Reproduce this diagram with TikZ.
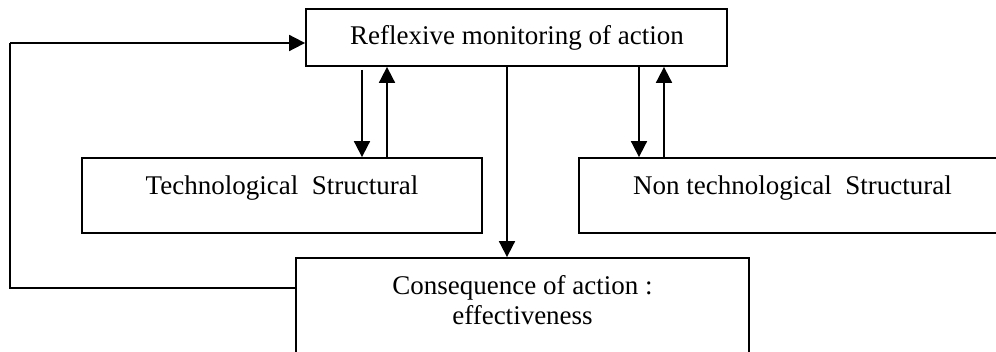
\documentclass[tikz,border=0pt]{standalone}
\usepackage{fontspec}
\setmainfont{Liberation Serif}
\usetikzlibrary{arrows.meta}
\begin{document}
\begin{tikzpicture}[x=1pt,y=-1pt,
  box/.style={draw,line width=1.8pt,rectangle,inner sep=0pt},
  lbl/.style={font=\fontsize{27}{30}\selectfont,inner sep=0pt,anchor=base},
  arr/.style={line width=1.8pt,-{Triangle[length=16pt,width=16pt]}},
  conn/.style={line width=1.8pt}]
\useasboundingbox (0,0) rectangle (996,352);
% boxes
\node[box,minimum width=421pt,minimum height=57pt] (top) at (516.5,37.5) {};
\node[box,minimum width=400pt,minimum height=75pt] (tech) at (282,195.5) {};
\node[box,minimum width=427pt,minimum height=75pt] (nontech) at (792.5,195.5) {};
\node[box,minimum width=453pt,minimum height=130pt] (cons) at (522.5,323) {};
% texts
\node[lbl] (toptxt) at (517,45) {Reflexive monitoring of action};
\node[lbl] (techtxt) at (282,195) {Technological\ \ Structural};
\node[lbl] (nontechtxt) at (792.5,195) {Non technological\ \ Structural};
\node[lbl] (constxt1) at (522.5,295) {Consequence of action :};
\node[lbl] (constxt2) at (522.5,325) {effectiveness};
% arrows between top and tech
\draw[arr] ([yshift=-3pt]top.south -| 362,0) -- (tech.north -| 362,0);
\draw[arr] (tech.north -| 387,0) -- (top.south -| 387,0);
% arrows between top and nontech
\draw[arr] (top.south -| 639,0) -- (nontech.north -| 639,0);
\draw[arr] (nontech.north -| 664,0) -- (top.south -| 664,0);
% middle arrow
\draw[arr] (top.south -| 507,0) -- (cons.north -| 507,0);
% feedback loop
\coordinate (fbA) at (10,288);
\coordinate (fbB) at (10,43);
\draw[conn] (cons.west |- fbA) -- (fbA) -- (fbB);
\draw[arr] (fbB) -- (top.west |- fbB);
\end{tikzpicture}
\end{document}
